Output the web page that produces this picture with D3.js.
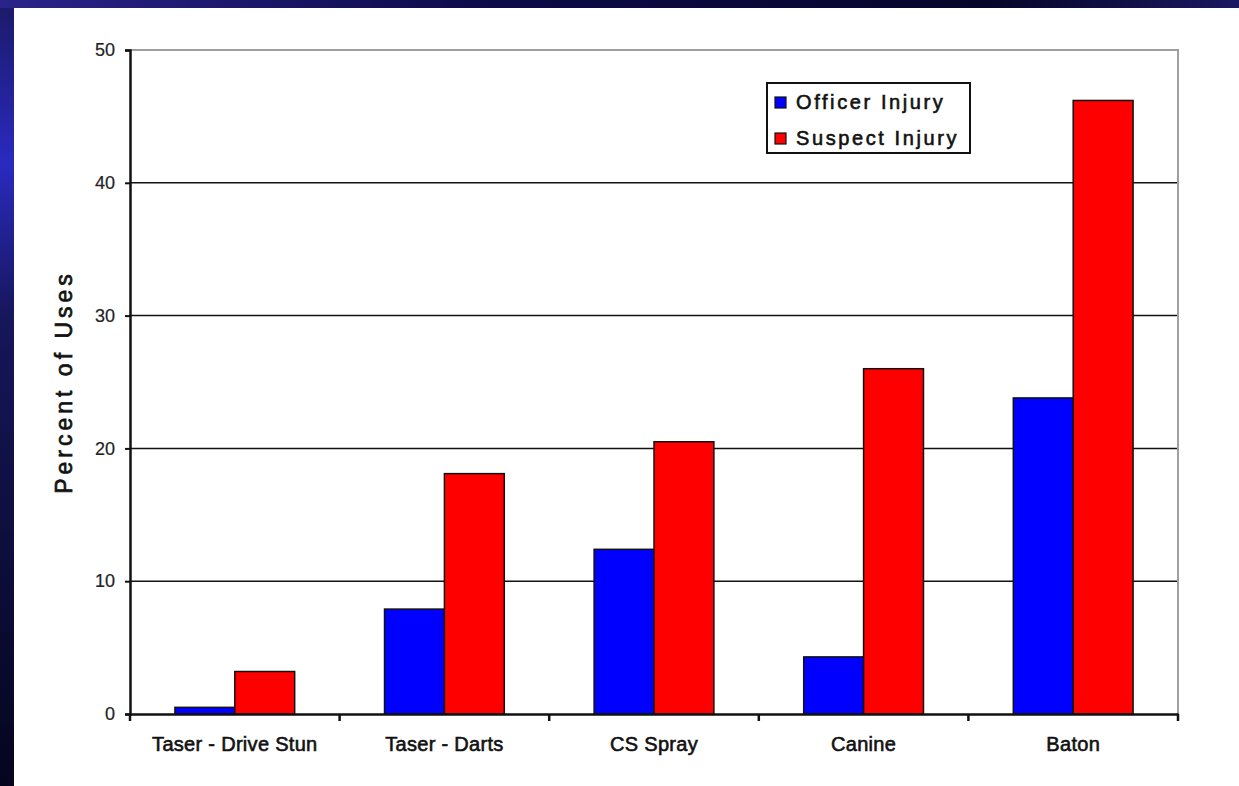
<!DOCTYPE html>
<html>
<head>
<meta charset="utf-8">
<script src="https://cdn.jsdelivr.net/npm/d3@7"></script>
<style>
  html, body { margin: 0; padding: 0; background: #0a0a35; }
  svg { display: block; }
  text { font-family: "Liberation Sans", Arial, sans-serif; }
</style>
</head>
<body>
<svg id="chart" width="1239" height="786"></svg>
<script>
const categories = ["Taser - Drive Stun", "Taser - Darts", "CS Spray", "Canine", "Baton"];
const officerInjury = [0.5, 7.9, 12.4, 4.3, 23.8];
const suspectInjury = [3.2, 18.1, 20.5, 26.0, 46.2];
const seriesNames = ["Officer Injury", "Suspect Injury"];
const seriesColors = ["#0000ff", "#ff0000"];
const yTicks = [0, 10, 20, 30, 40, 50];
const yTitle = "Percent of Uses";

const W = 1239, H = 786;
const svg = d3.select("#chart");

// slide background
const defs = svg.append("defs");
const g1 = defs.append("linearGradient").attr("id", "bgTop").attr("x1", "0").attr("x2", "1").attr("y1", "0").attr("y2", "0");
g1.append("stop").attr("offset", "0").attr("stop-color", "#2a238a");
g1.append("stop").attr("offset", "0.4").attr("stop-color", "#0c0a48");
g1.append("stop").attr("offset", "0.8").attr("stop-color", "#06052a");
g1.append("stop").attr("offset", "1").attr("stop-color", "#1a1860");
const g2 = defs.append("linearGradient").attr("id", "bgLeft").attr("x1", "0").attr("x2", "0").attr("y1", "0").attr("y2", "1");
g2.append("stop").attr("offset", "0").attr("stop-color", "#1c1a6a");
g2.append("stop").attr("offset", "0.2").attr("stop-color", "#2a2ac0");
g2.append("stop").attr("offset", "0.4").attr("stop-color", "#16165a");
g2.append("stop").attr("offset", "1").attr("stop-color", "#05051e");
svg.append("rect").attr("x", 0).attr("y", 0).attr("width", W).attr("height", H).attr("fill", "url(#bgTop)");
svg.append("rect").attr("x", 0).attr("y", 8).attr("width", 14).attr("height", H - 8).attr("fill", "url(#bgLeft)");
svg.append("rect").attr("x", 14).attr("y", 8).attr("width", W - 14).attr("height", H - 8).attr("fill", "#ffffff");

const plot = { left: 130, right: 1178, top: 50, bottom: 714 };

const x = d3.scaleBand().domain(categories).range([plot.left, plot.right]).paddingInner(0).paddingOuter(0);
const xs = d3.scaleBand().domain(seriesNames).range([0, x.bandwidth()]).paddingInner(0).paddingOuter(0.75);
const y = d3.scaleLinear().domain([0, 50]).range([plot.bottom, plot.top]);

// gridlines
svg.append("g").selectAll("line").data(yTicks.filter(t => t > 0 && t < 50)).join("line")
  .attr("x1", plot.left).attr("x2", plot.right)
  .attr("y1", d => y(d)).attr("y2", d => y(d))
  .attr("stroke", "#111").attr("stroke-width", 1.5);

// plot border top/right (gray)
svg.append("path")
  .attr("d", `M${plot.left},${y(50)}H${plot.right}V${plot.bottom}`)
  .attr("fill", "none").attr("stroke", "#a0a0a0").attr("stroke-width", 2);

// bars
const data = categories.map((c, i) => ({ cat: c, values: [officerInjury[i], suspectInjury[i]] }));
const groups = svg.append("g").selectAll("g").data(data).join("g")
  .attr("transform", d => `translate(${x(d.cat)},0)`);
groups.selectAll("rect").data(d => d.values.map((v, j) => ({ name: seriesNames[j], v, color: seriesColors[j] }))).join("rect")
  .attr("x", d => xs(d.name))
  .attr("width", xs.bandwidth())
  .attr("y", d => y(d.v))
  .attr("height", d => y(0) - y(d.v))
  .attr("fill", d => d.color)
  .attr("stroke", "#111").attr("stroke-width", 1.5);

// y axis
const yAxis = d3.axisLeft(y).tickValues(yTicks).tickSize(5).tickPadding(8);
const gy = svg.append("g").attr("transform", `translate(${plot.left},0)`).call(yAxis);
gy.select(".domain").attr("stroke", "#111").attr("stroke-width", 2.5);
gy.selectAll(".tick line").attr("stroke", "#111").attr("stroke-width", 2);
gy.selectAll(".tick text").attr("font-size", 18).attr("fill", "#222")
  .attr("font-family", "'Liberation Sans', Arial, sans-serif").attr("dx", -2)
  .attr("stroke", "#222").attr("stroke-width", 0.2);

// x axis
const xAxis = d3.axisBottom(x).tickSize(0).tickPadding(30);
const gx = svg.append("g").attr("transform", `translate(0,${plot.bottom})`).call(xAxis);
gx.select(".domain").attr("stroke", "#111").attr("stroke-width", 2.5);
gx.selectAll(".tick text").attr("font-size", 20).attr("fill", "#111")
  .attr("font-family", "'Liberation Sans', Arial, sans-serif")
  .attr("stroke", "#111").attr("stroke-width", 0.6).attr("letter-spacing", 0.3)
  .attr("dy", "0.35em");
// category boundary ticks
const bounds = categories.map(c => x(c)).concat([x(categories[categories.length - 1]) + x.step()]);
svg.append("g").selectAll("line").data(bounds).join("line")
  .attr("x1", d => d).attr("x2", d => d)
  .attr("y1", plot.bottom).attr("y2", plot.bottom + 7)
  .attr("stroke", "#111").attr("stroke-width", 2.5);

// y title
svg.append("text")
  .attr("transform", `translate(72,${(plot.top + plot.bottom) / 2}) rotate(-90)`)
  .attr("text-anchor", "middle")
  .attr("font-size", 23).attr("letter-spacing", 4).attr("fill", "#111")
  .attr("stroke", "#111").attr("stroke-width", 0.7)
  .text(yTitle);

// legend
const lg = svg.append("g").attr("transform", "translate(767,83)");
lg.append("rect").attr("x", 0).attr("y", 0).attr("width", 203).attr("height", 70)
  .attr("fill", "#fff").attr("stroke", "#111").attr("stroke-width", 2);
const li = lg.selectAll("g").data(seriesNames).join("g")
  .attr("transform", (d, i) => `translate(8,${19 + i * 36})`);
li.append("rect").attr("x", 0).attr("y", -5).attr("width", 11).attr("height", 11)
  .attr("fill", (d, i) => seriesColors[i]).attr("stroke", "#111").attr("stroke-width", 1.2);
li.append("text").attr("x", 21).attr("y", 0).attr("dy", "0.35em")
  .attr("font-size", 20).attr("letter-spacing", 2.6).attr("fill", "#111")
  .attr("stroke", "#111").attr("stroke-width", 0.6)
  .text(d => d);
</script>
</body>
</html>
